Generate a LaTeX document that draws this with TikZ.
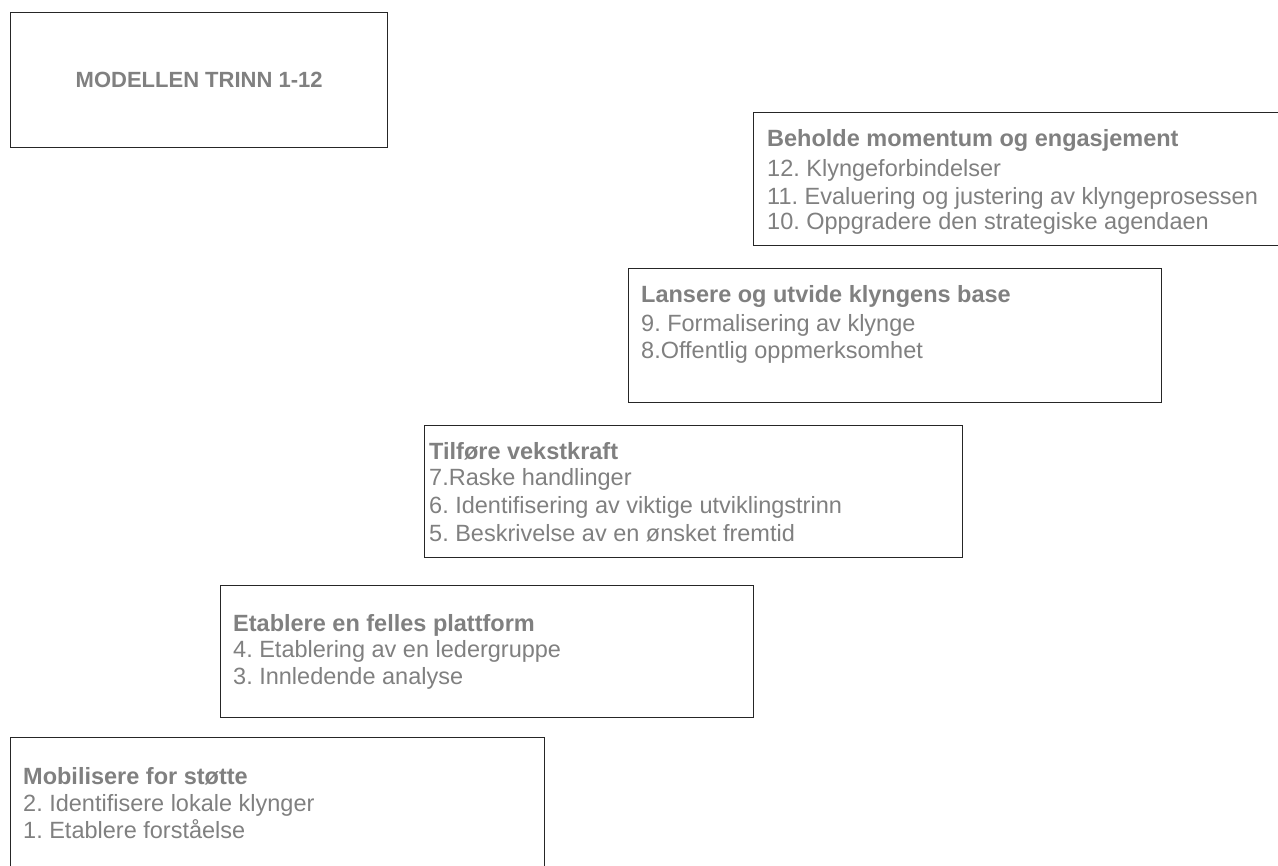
\documentclass[tikz,border=0pt]{standalone}
\usepackage{fontspec}
\setmainfont{Liberation Sans}
\frenchspacing
\definecolor{txtgray}{HTML}{808080}
\definecolor{boxline}{HTML}{262626}
\begin{document}
\begin{tikzpicture}[x=1pt,y=-1pt,
  box/.style={draw=boxline, line width=1.3pt, anchor=north west, inner sep=0pt, fill=white},
  ttl/.style={text=txtgray, inner sep=0pt, font=\fontsize{22}{26}\selectfont\bfseries},
  hd/.style={anchor=base west, inner sep=0pt, text=txtgray, font=\fontsize{23.5}{27}\selectfont\bfseries\frenchspacing},
  ln/.style={anchor=base west, inner sep=0pt, text=txtgray, font=\fontsize{23.5}{27}\selectfont\frenchspacing}]
\clip (0,0) rectangle (1278,866);
\fill[white] (0,0) rectangle (1278,866);
% title box
\node[box, minimum width=377pt, minimum height=135pt] (b0) at (10,12) {};
\node[ttl] (t0) at (b0.center) {MODELLEN TRINN 1-12};
% box 10-12
\node[box, minimum width=545pt, minimum height=133pt] (b1) at (753,112) {};
\node[hd] (h1) at (767,147) {Beholde momentum og engasjement};
\node[ln] (l12) at (767,177) {12. Klyngeforbindelser};
\node[ln] (l11) at (767,205) {11. Evaluering og justering av klyngeprosessen};
\node[ln] (l10) at (767,230) {10. Oppgradere den strategiske agendaen};
% box 8-9
\node[box, minimum width=533pt, minimum height=134pt] (b2) at (628,268) {};
\node[hd] (h2) at (641,303) {Lansere og utvide klyngens base};
\node[ln] (l9) at (641,332) {9. Formalisering av klynge};
\node[ln] (l8) at (641,359) {8.Offentlig oppmerksomhet};
% box 5-7
\node[box, minimum width=538pt, minimum height=132pt] (b3) at (424,425) {};
\node[hd] (h3) at (429,460) {Tilføre vekstkraft};
\node[ln] (l7) at (429,486) {7.Raske handlinger};
\node[ln] (l6) at (429,514) {6. Identifisering av viktige utviklingstrinn};
\node[ln] (l5) at (429,541) {5. Beskrivelse av en ønsket fremtid};
% box 3-4
\node[box, minimum width=533pt, minimum height=132pt] (b4) at (220,585) {};
\node[hd] (h4) at (233,631) {Etablere en felles plattform};
\node[ln] (l4) at (233,657) {4. Etablering av en ledergruppe};
\node[ln] (l3) at (233,684) {3. Innledende analyse};
% box 1-2
\node[box, minimum width=534pt, minimum height=150pt] (b5) at (10,737) {};
\node[hd] (h5) at (23,784) {Mobilisere for støtte};
\node[ln] (l2) at (23,811) {2. Identifisere lokale klynger};
\node[ln] (l1) at (23,838) {1. Etablere forståelse};
\end{tikzpicture}
\end{document}
